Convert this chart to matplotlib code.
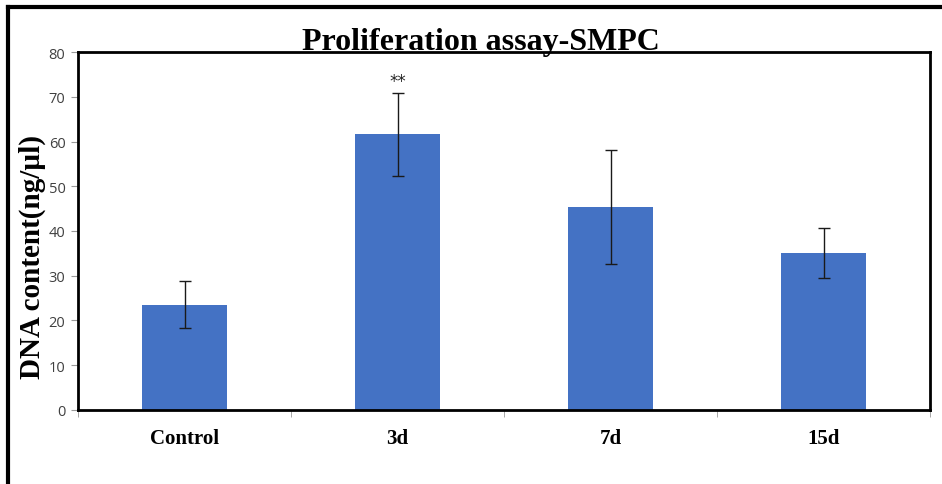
import matplotlib.pyplot as plt
from matplotlib.lines import Line2D

groups = ['Control', '3d', '7d', '15d']
dna = [23.5, 61.6, 45.4, 35.0]
err_low = [18.3, 52.2, 32.6, 29.4]
err_high = [28.8, 70.9, 58.2, 40.7]

bar_color = '#4472C4'

fig = plt.figure(figsize=(9.42, 4.85), dpi=100)
ax = fig.add_axes([0.0828, 0.1526, 0.9045, 0.7381])

x = range(len(groups))
yerr = [[v - lo for v, lo in zip(dna, err_low)],
        [hi - v for v, hi in zip(dna, err_high)]]
ax.bar(x, dna, width=0.4, color=bar_color, zorder=2)
ax.errorbar(x, dna, yerr=yerr, fmt='none', ecolor='#1a1a1a', elinewidth=1,
            capsize=4, capthick=1, zorder=3)

# significance mark over 3d
ax.text(1, err_high[1] + 0.6, '**', ha='center', va='bottom', fontsize=12, color='#222222')

ax.set_xlim(-0.5, len(groups) - 0.5)
ax.set_ylim(0, 80)
ax.set_yticks(range(0, 81, 10))
ax.set_xticks(list(x))
ax.set_xticklabels(groups, fontfamily='Liberation Serif', fontweight='bold', fontsize=15)
ax.set_xticks([i - 0.5 for i in range(len(groups) + 1)], minor=True)
ax.tick_params(axis='x', which='major', length=0, pad=13)
ax.tick_params(axis='x', which='minor', length=5, color='#999999', direction='out')
ax.tick_params(axis='y', length=5, color='#999999', labelsize=10.5, labelcolor='#404040', pad=4)
for lab in ax.get_yticklabels():
    lab.set_fontfamily('Open Sans')

for side in ['top', 'right', 'left', 'bottom']:
    ax.spines[side].set_linewidth(2)
    ax.spines[side].set_color('black')

fig.text(0.510, 0.912, 'Proliferation assay-SMPC', ha='center', va='center',
         fontfamily='Liberation Serif', fontweight='bold', fontsize=23)
fig.text(0.034, 1 - 257 / 485, 'DNA content(ng/\u00b5l)', ha='center', va='center',
         rotation=90, fontfamily='Liberation Serif', fontweight='bold', fontsize=21)

# outer frame lines (top and left)
fig.add_artist(Line2D([0.008, 1.0], [1 - 8 / 485, 1 - 8 / 485], color='black',
                      lw=3, transform=fig.transFigure))
fig.add_artist(Line2D([0.0085, 0.0085], [0, 1 - 8 / 485], color='black',
                      lw=3, transform=fig.transFigure))

fig.savefig('out.png', dpi=100)
